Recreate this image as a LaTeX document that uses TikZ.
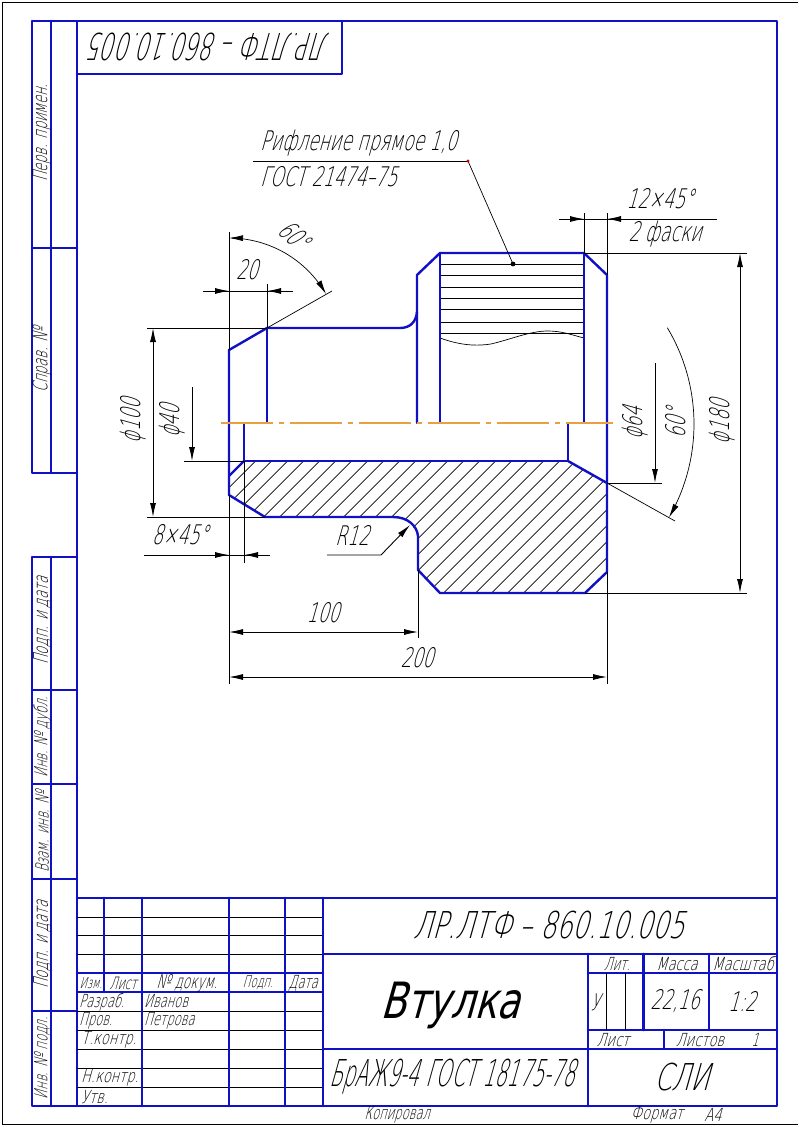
\documentclass[tikz,border=0pt]{standalone}
\usepackage{fontspec}
\setmainfont[FakeSlant=0.28,FakeStretch=0.64]{DejaVu Sans ExtraLight}
\newfontfamily\fstamp[FakeSlant=0.28,FakeStretch=0.60]{DejaVu Sans ExtraLight}
\newfontfamily\ftitle[FakeSlant=0.28,FakeStretch=0.68]{DejaVu Sans ExtraLight}
\newfontfamily\fmater[FakeSlant=0.28,FakeStretch=0.52]{DejaVu Sans ExtraLight}
\newfontfamily\fname[FakeSlant=0.28,FakeStretch=0.75]{DejaVu Sans}
\newfontfamily\fwide[FakeSlant=0.28,FakeStretch=0.72]{DejaVu Sans ExtraLight}
\usetikzlibrary{arrows.meta}
\definecolor{frameblue}{RGB}{16,16,196}
\definecolor{axisorange}{RGB}{232,160,64}
\tikzset{
  heavy/.style={draw=frameblue,line width=2.6pt,line cap=round,line join=round},
  part/.style={draw=frameblue,line width=2.4pt,line cap=round,line join=round},
  fine/.style={draw=black,line width=0.9pt},
  thinline/.style={draw=black,line width=0.7pt},
  tip/.style={-{Latex[length=14pt,width=6pt]}},
  bitip/.style={{Latex[length=14pt,width=6pt]}-{Latex[length=14pt,width=6pt]}},
  lbl/.style={inner sep=0pt,text=black},
  big/.style={lbl,font=\ftitle\fontsize{37}{37}\selectfont},
  dimt/.style={lbl,font=\fontsize{27}{27}\selectfont},
  small/.style={lbl,font=\fontsize{18}{18}\selectfont},
  smallw/.style={lbl,font=\fwide\fontsize{18}{18}\selectfont},
  side/.style={lbl,rotate=90,font=\fontsize{20}{20}\selectfont},
  sidetight/.style={lbl,rotate=90,font=\fontsize{18}{18}\selectfont},
}
\begin{document}
\begin{tikzpicture}[x=1pt,y=-1pt]
\useasboundingbox (0,0) rectangle (798,1127);
\fill[white] (0,0) rectangle (798,1127);
% page edge
\draw[fine] (798,2) -- (2.5,2) -- (2.5,1124.5) -- (798,1124.5);
% hatching
\begin{scope}
\clip (244,461)--(568,461)--(607,483)--(607,572)--(585,593)--(440,593)--(418,570)--(418,536)--(412,525)--(405,519)--(393,517)--(265,517)--(229,495)--(229,476)--cycle;
\foreach \k in {-13,...,20}{
  \draw[thinline] ({876.7+16*\k-440},440) -- ({876.7+16*\k-620},620);
}
\end{scope}
% knurling
\foreach \yy in {264,275,287,298,309,322,333}{\draw[fine] (440,\yy) -- (584,\yy);}
\draw[thinline] (440,338) .. controls (462,346) and (478,346) .. (491,344) .. controls (512,339) and (530,331) .. (548,331) .. controls (562,331) and (572,335) .. (584,338);
% part outline
\draw[part] (229,423) -- (229,350) -- (267,328) -- (400,328) .. controls (410,328) and (416,322) .. (417,312);
\draw[part] (417,423) -- (417,275) -- (440,253) -- (584,253) -- (607,275) -- (607,572) -- (585,593) -- (440,593) -- (418,570) -- (418,536) .. controls (417,526) and (408,517) .. (393,517) -- (265,517) -- (229,495) -- (229,423);
\draw[part] (267,328) -- (267,423);
\draw[part] (440,253) -- (440,423);
\draw[part] (584,253) -- (584,423);
\draw[part] (244,423) -- (244,461) -- (568,461) -- (568,423);
\draw[part] (229,476) -- (244,461);
\draw[part] (568,461) -- (607,483);
% axis
\draw[axisorange,line width=1.1pt,dash pattern=on 52pt off 6pt on 5pt off 6pt] (221,423) -- (613,423);
% leader
\draw[thinline] (253,161) -- (468,161);
\draw[thinline] (468,161) -- (513,264);
\fill[red!80!black] (468,161) circle (1.6);
\fill[black] (513,264) circle (2.4);
% dimensions: extension lines
\draw[fine] (229,232) -- (229,350);
\draw[fine] (267,284) -- (267,328);
\draw[thinline] (267,328) -- (332,291);
\draw[fine] (147,328) -- (267,328);
\draw[fine] (147,517) -- (265,517);
\draw[fine] (184,461) -- (244,461);
\draw[fine] (229,495) -- (229,684);
\draw[fine] (244,461) -- (244,563);
\draw[fine] (418,570) -- (418,638);
\draw[fine] (607,572) -- (607,684);
\draw[fine] (584,213) -- (584,253);
\draw[fine] (607,213) -- (607,275);
\draw[fine] (584,253) -- (747,253);
\draw[fine] (585,593) -- (747,593);
\draw[fine] (607,483) -- (662,483);
\draw[thinline] (607,483) -- (675,521);
% dimensions: lines with arrows
\draw[fine] (203,291) -- (293,291);
\draw[fine,tip] (205,291) -- (229,291);
\draw[fine,tip] (291,291) -- (267,291);
\draw[fine,tip] (153,420) -- (153,328);
\draw[fine,tip] (153,420) -- (153,517);
\draw[fine,tip] (192,387) -- (192,461);
\draw[fine] (144,555) -- (270,555);
\draw[fine,tip] (205,555) -- (229,555);
\draw[fine,tip] (268,555) -- (244,555);
\draw[fine,tip] (327,555) -- (381,555) -- (410,525);
\draw[fine,bitip] (229,632) -- (418,632);
\draw[fine,bitip] (229,677) -- (607,677);
\draw[fine] (559,219) -- (717,219);
\draw[fine,tip] (562,219) -- (584,219);
\draw[fine,tip] (629,219) -- (607,219);
\draw[fine,bitip] (740,253) -- (740,593);
\draw[fine,tip] (655,363) -- (655,483);
% angle arcs
\draw[thinline,bitip] plot[smooth,samples=31,domain=90:30] ({229+112*cos(\x)},{350-112*sin(\x)});
\draw[thinline,tip] plot[smooth,samples=31,domain=31:-30] ({507+187*cos(\x)},{424-187*sin(\x)});
% frame
\draw[heavy] (77,21) rectangle (777,1106);
\draw[heavy] (32,21) -- (77,21) (32,21) -- (32,473) -- (77,473) (51,21) -- (51,473) (32,248) -- (77,248);
\draw[heavy] (32,557) -- (77,557) (32,557) -- (32,1106) -- (77,1106) (51,557) -- (51,1106);
\foreach \yy in {690,784,879,1011}{\draw[heavy] (32,\yy) -- (77,\yy);}
\draw[heavy] (77,74) -- (342,74) -- (342,21);
% title block
\draw[heavy] (77,898) -- (777,898);
\foreach \yy in {917,935,954,1011,1030,1049,1068,1087}{\draw[fine] (77,\yy) -- (323,\yy);}
\draw[heavy] (77,973) -- (323,973) (77,992) -- (323,992);
\draw[heavy] (104,898) -- (104,992);
\foreach \xx in {142,229,285,323}{\draw[heavy] (\xx,898) -- (\xx,1106);}
\draw[heavy] (323,954) -- (777,954) (323,1049) -- (777,1049);
\draw[heavy] (588,954) -- (588,1106);
\draw[heavy] (588,973) -- (777,973) (588,1030) -- (777,1030);
\draw[heavy] (643.5,954) -- (643.5,1030) (709,954) -- (709,1030) (664,1030) -- (664,1049);
\draw[fine] (606,973) -- (606,1030) (625,973) -- (625,1030);
% labels
\node[lbl,rotate=180,font=\fstamp\fontsize{37}{37}\selectfont] (t1) at (211,47) {ЛР.ЛТФ – 860.10.005};
\node[big] (t2) at (549,925) {ЛР.ЛТФ – 860.10.005};
\node[lbl,font=\fname\fontsize{50}{50}\selectfont] (t3) at (450,1005) {Втулка};
\node[lbl,font=\fmater\fontsize{37}{37}\selectfont] (t4) at (452,1077) {БрАЖ9-4 ГОСТ 18175-78};
\node[big] (t5) at (682,1077) {СЛИ};
\node[dimt,anchor=west] (n1) at (260,143) {Рифление прямое 1,0};
\node[dimt,anchor=west] (n2) at (260,177) {ГОСТ 21474–75};
\node[dimt] (d20) at (247,270) {20};
\node[dimt,rotate=-42] (a60) at (294,235) {60°};
\node[dimt] (d12) at (660,199) {12×45°};
\node[dimt] (d2f) at (665,234) {2 фаски};
\node[dimt,rotate=90] (d100) at (133,421) {ϕ100};
\node[dimt,rotate=90] (d40) at (172,421) {ϕ40};
\node[dimt,rotate=90] (d64) at (635,423) {ϕ64};
\node[dimt,rotate=90] (b60) at (676,423) {60°};
\node[dimt,rotate=90] (d180) at (722,422) {ϕ180};
\node[dimt] (d8) at (180,535) {8×45°};
\node[dimt] (r12) at (352,535) {R12};
\node[dimt] (l100) at (323,613) {100};
\node[dimt] (l200) at (417,658) {200};
% side labels
\node[side] (s1) at (42,133) {Перв. примен.};
\node[side] (s2) at (42,360) {Справ. №};
\node[side] (s3) at (42,621) {Подп. и дата};
\node[sidetight] (s4) at (42,737) {Инв. № дубл.};
\node[sidetight] (s5) at (42,832) {Взам. инв. №};
\node[side] (s6) at (42,945) {Подп. и дата};
\node[sidetight] (s7) at (42,1058) {Инв. № подл.};
% block labels
\node[small,font=\fontsize{15}{15}\selectfont] (b1) at (91,983) {Изм.};
\node[small,font=\fontsize{17}{17}\selectfont] (b2) at (123,983) {Лист};
\node[small,font=\fontsize{19}{19}\selectfont] (b3) at (187,983) {№ докум.};
\node[small,font=\fontsize{16}{16}\selectfont] (b4) at (258,983) {Подп.};
\node[small] (b5) at (303,983) {Дата};
\node[small,anchor=west] (c1) at (79,1002) {Разраб.};
\node[small,anchor=west] (c2) at (79,1021) {Пров.};
\node[smallw,anchor=west] (c3) at (81,1040) {Т.контр.};
\node[smallw,anchor=west] (c4) at (81,1078) {Н.контр.};
\node[smallw,anchor=west] (c5) at (81,1097) {Утв.};
\node[small,anchor=west] (c6) at (144,1001) {Иванов};
\node[small,anchor=west] (c7) at (144,1021) {Петрова};
\node[small] (e1) at (617,964) {Лит.};
\node[smallw] (e2) at (677,964) {Масса};
\node[smallw] (e3) at (743,964) {Масштаб};
\node[lbl,font=\fontsize{23}{23}\selectfont] (e4) at (595,1002) {У};
\node[dimt] (e5) at (675,1001) {22,16};
\node[dimt] (e6) at (742,1001) {1:2};
\node[smallw] (e7) at (613,1040) {Лист};
\node[smallw] (e8) at (700,1040) {Листов};
\node[small] (e9) at (755,1040) {1};
\node[small] (f1) at (397,1115) {Копировал};
\node[smallw] (f2) at (657,1115) {Формат};
\node[smallw] (f3) at (713,1115) {А4};
\end{tikzpicture}
\end{document}
